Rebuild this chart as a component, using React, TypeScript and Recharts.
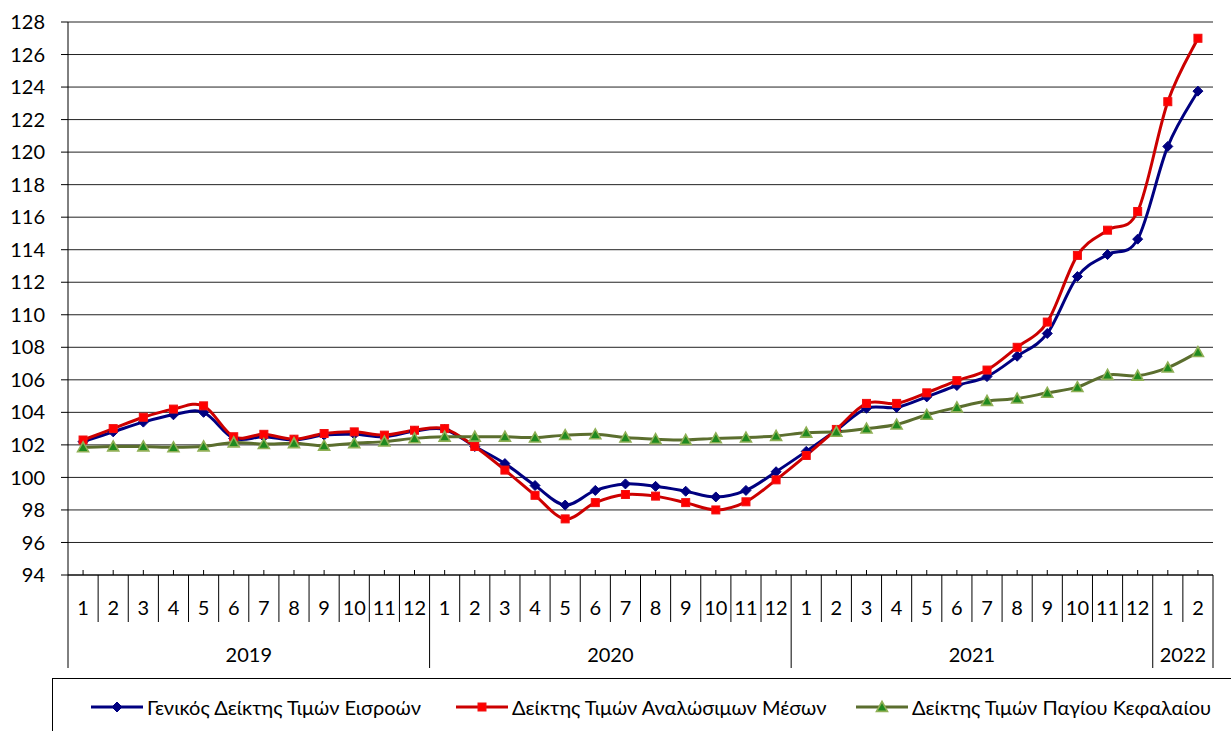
import React from "react";
import { LineChart, Line, XAxis, YAxis, CartesianGrid, Legend } from "recharts";

// ---- data ----
const years: number[] = [
  2019, 2019, 2019, 2019, 2019, 2019, 2019, 2019, 2019, 2019, 2019, 2019,
  2020, 2020, 2020, 2020, 2020, 2020, 2020, 2020, 2020, 2020, 2020, 2020,
  2021, 2021, 2021, 2021, 2021, 2021, 2021, 2021, 2021, 2021, 2021, 2021,
  2022, 2022,
];
const months: number[] = [
  1, 2, 3, 4, 5, 6, 7, 8, 9, 10, 11, 12,
  1, 2, 3, 4, 5, 6, 7, 8, 9, 10, 11, 12,
  1, 2, 3, 4, 5, 6, 7, 8, 9, 10, 11, 12,
  1, 2,
];
const generalIndex: number[] = [
  102.2, 102.8, 103.4, 103.85, 104.0, 102.4, 102.5, 102.3, 102.6, 102.65, 102.5, 102.85,
  102.95, 101.9, 100.85, 99.5, 98.3, 99.2, 99.6, 99.45, 99.15, 98.8, 99.2, 100.35,
  101.6, 102.9, 104.25, 104.3, 104.95, 105.65, 106.2, 107.45, 108.85, 112.35, 113.7, 114.65,
  120.35, 123.75,
];
const consumablesIndex: number[] = [
  102.3, 103.0, 103.7, 104.2, 104.4, 102.5, 102.65, 102.35, 102.7, 102.8, 102.6, 102.9,
  103.0, 101.9, 100.45, 98.9, 97.45, 98.45, 98.95, 98.85, 98.45, 98.0, 98.5, 99.85,
  101.35, 102.95, 104.55, 104.55, 105.2, 105.95, 106.6, 108.0, 109.55, 113.65, 115.2, 116.35,
  123.1, 127.0,
];
const capitalIndex: number[] = [
  101.85, 101.9, 101.9, 101.85, 101.9, 102.15, 102.05, 102.1, 101.95, 102.1, 102.2, 102.4,
  102.5, 102.5, 102.5, 102.45, 102.6, 102.65, 102.45, 102.35, 102.3, 102.4, 102.45, 102.55,
  102.75, 102.8, 103.0, 103.25, 103.85, 104.3, 104.7, 104.85, 105.2, 105.55, 106.3, 106.25,
  106.75, 107.7,
];
const yTicks: number[] = [94, 96, 98, 100, 102, 104, 106, 108, 110, 112, 114, 116, 118, 120, 122, 124, 126, 128];
const seriesNames: string[] = [
  "Γενικός Δείκτης Τιμών Εισροών",
  "Δείκτης Τιμών Αναλώσιμων Μέσων",
  "Δείκτης Τιμών Παγίου Κεφαλαίου",
];

const data = months.map((m, i) => ({
  key: `${years[i]}-${m}`,
  general: generalIndex[i],
  consumables: consumablesIndex[i],
  capital: capitalIndex[i],
}));

// ---- layout ----
const W = 1231;
const H = 731;
const PLOT_LEFT = 68;
const PLOT_RIGHT = 1213;
const PLOT_TOP = 22;
const PLOT_BOTTOM = 575;
const N = months.length;
const STEP = (PLOT_RIGHT - PLOT_LEFT) / N;

const BLUE = "#000080";
const RED = "#CC0000";
const GREEN = "#5B6E2E";
const FONT = "Lato, 'Noto Sans', 'Liberation Sans', sans-serif";

// Excel-like smoothing (Catmull-Rom bezier)
const excelSmooth: any = (context: any) => {
  let pts: [number, number][] = [];
  return {
    areaStart() {},
    areaEnd() {},
    lineStart() {
      pts = [];
    },
    point(x: number, y: number) {
      pts.push([+x, +y]);
    },
    lineEnd() {
      if (!pts.length) return;
      context.moveTo(pts[0][0], pts[0][1]);
      for (let i = 0; i < pts.length - 1; i++) {
        const p0 = pts[i - 1] || pts[i];
        const p1 = pts[i];
        const p2 = pts[i + 1];
        const p3 = pts[i + 2] || p2;
        const c1x = p1[0] + (p2[0] - p0[0]) / 6;
        const c1y = p1[1] + (p2[1] - p0[1]) / 6;
        const c2x = p2[0] - (p3[0] - p1[0]) / 6;
        const c2y = p2[1] - (p3[1] - p1[1]) / 6;
        context.bezierCurveTo(c1x, c1y, c2x, c2y, p2[0], p2[1]);
      }
    },
  };
};

const Diamond = (props: any) => {
  const { cx, cy } = props;
  if (cx == null || cy == null) return null;
  const r = 5;
  return (
    <polygon
      points={`${cx},${cy - r} ${cx + r},${cy} ${cx},${cy + r} ${cx - r},${cy}`}
      fill={BLUE}
      stroke={BLUE}
      strokeWidth={1}
    />
  );
};

const Square = (props: any) => {
  const { cx, cy } = props;
  if (cx == null || cy == null) return null;
  const r = 4;
  return <rect x={cx - r} y={cy - r} width={2 * r} height={2 * r} fill="#FF0000" stroke="#F01010" strokeWidth={1} />;
};

const Triangle = (props: any) => {
  const { cx, cy } = props;
  if (cx == null || cy == null) return null;
  const r = 5.5;
  return (
    <polygon
      points={`${cx},${cy - r} ${cx + r},${cy + r * 0.8} ${cx - r},${cy + r * 0.8}`}
      fill="#1F8A1F"
      stroke="#8FAF55"
      strokeWidth={1.6}
    />
  );
};

const MonthTick = (props: any) => {
  const { x, y, payload } = props;
  const i = payload.index;
  const m = months[i];
  const yr = years[i];
  const isYearEnd = i === N - 1 || years[i + 1] !== yr;
  const els: any[] = [];
  els.push(<line key="t" x1={x} x2={x} y1={y - 5} y2={y} stroke="#000" strokeWidth={1} />);
  const bx = x + STEP / 2;
  els.push(
    <line key="b" x1={bx} x2={bx} y1={y} y2={y + (isYearEnd ? 93 : 47)} stroke="#000" strokeWidth={1} />
  );
  if (i === 0) {
    const lx = x - STEP / 2;
    els.push(<line key="l" x1={lx} x2={lx} y1={y} y2={y + 93} stroke="#000" strokeWidth={1} />);
  }
  els.push(
    <text key="m" x={x} y={y + 32} textAnchor="middle" dominantBaseline="central" fontSize={20} fill="#000" fontFamily={FONT}>
      {m}
    </text>
  );
  if (i === 0 || years[i - 1] !== yr) {
    const count = years.filter((v) => v === yr).length;
    const cx = x + ((count - 1) / 2) * STEP;
    els.push(
      <text key="y" x={cx} y={y + 79} textAnchor="middle" dominantBaseline="central" fontSize={20} fill="#000" fontFamily={FONT}>
        {yr}
      </text>
    );
  }
  return <g>{els}</g>;
};

const legendIcons = [
  (x: number) => <Diamond cx={x} cy={10} />,
  (x: number) => <Square cx={x} cy={10} />,
  (x: number) => <Triangle cx={x} cy={10} />,
];
const legendColors = [BLUE, RED, GREEN];
const legendOffsets = [38, 403, 803];

const LegendContent = () => (
  <div
    style={{
      position: "relative",
      width: 1200,
      height: 70,
      border: "1px solid #000",
      boxSizing: "border-box",
      fontFamily: FONT,
      fontSize: 20,
      color: "#000",
    }}
  >
    {seriesNames.map((name, k) => (
      <div
        key={k}
        style={{ position: "absolute", left: legendOffsets[k], top: 18, display: "flex", alignItems: "center", whiteSpace: "nowrap" }}
      >
        <svg width={52} height={20} style={{ display: "block" }}>
          <line x1={0} x2={52} y1={10} y2={10} stroke={legendColors[k]} strokeWidth={3} />
          {legendIcons[k](26)}
        </svg>
        <span style={{ marginLeft: 4, lineHeight: "20px" }}>{name}</span>
      </div>
    ))}
  </div>
);

export default function App() {
  return (
    <div style={{ position: "absolute", left: 0, top: 0, width: W, height: H, background: "#fff", fontFamily: FONT }}>
      <LineChart
        width={W}
        height={H}
        data={data}
        margin={{ top: PLOT_TOP, right: W - PLOT_RIGHT, left: 0, bottom: 0 }}
      >
        <CartesianGrid horizontal vertical={false} stroke="#222" strokeWidth={1} />
        <XAxis
          dataKey="key"
          type="category"
          interval={0}
          height={H - PLOT_BOTTOM}
          padding={{ left: STEP / 2, right: STEP / 2 }}
          tickLine={false}
          tickSize={0}
          tickMargin={0}
          axisLine={{ stroke: "#000", strokeWidth: 1 }}
          tick={<MonthTick />}
        />
        <YAxis
          type="number"
          domain={[94, 128]}
          ticks={yTicks}
          interval={0}
          width={PLOT_LEFT}
          tickSize={7}
          tickMargin={16}
          tickLine={{ stroke: "#000" }}
          axisLine={{ stroke: "#000" }}
          tick={{ fill: "#000", fontSize: 20, fontFamily: FONT }}
          allowDataOverflow
        />
        <Legend
          verticalAlign="middle"
          align="center"
          layout="horizontal"
          wrapperStyle={{ left: 52, top: 678, width: 1200, height: 70, bottom: "auto", right: "auto" }}
          content={<LegendContent />}
        />
        <Line
          type={excelSmooth}
          dataKey="general"
          name={seriesNames[0]}
          stroke={BLUE}
          strokeWidth={3}
          dot={<Diamond />}
          activeDot={false}
          isAnimationActive={false}
        />
        <Line
          type={excelSmooth}
          dataKey="consumables"
          name={seriesNames[1]}
          stroke={RED}
          strokeWidth={3}
          dot={<Square />}
          activeDot={false}
          isAnimationActive={false}
        />
        <Line
          type={excelSmooth}
          dataKey="capital"
          name={seriesNames[2]}
          stroke={GREEN}
          strokeWidth={3}
          dot={<Triangle />}
          activeDot={false}
          isAnimationActive={false}
        />
      </LineChart>
    </div>
  );
}
